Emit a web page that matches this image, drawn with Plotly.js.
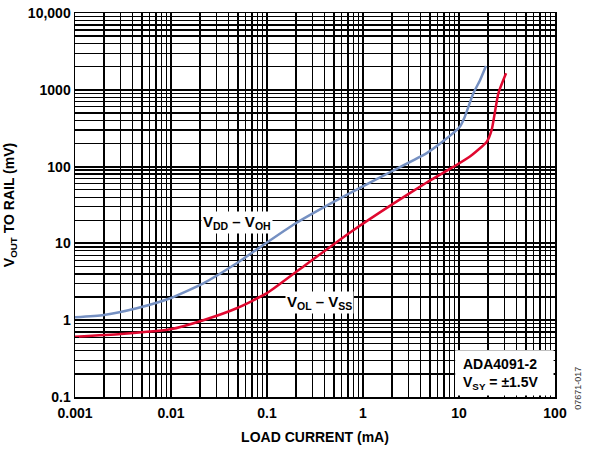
<!DOCTYPE html>
<html>
<head>
<meta charset="utf-8">
<script src="https://cdn.plot.ly/plotly-3.0.1.min.js"></script>
<style>html,body{margin:0;padding:0;background:#fff;}#chart{width:597px;height:453px;}</style>
</head>
<body>
<div id="chart"></div>
<script>
// Load current (mA) and voltage to rail (mV)
const vohCurrent = [0.001, 0.002, 0.0044, 0.0098, 0.0217, 0.0483, 0.0845, 0.188, 0.419, 0.93, 2.07, 4.61, 6.87, 10.2, 11.5, 14.1, 16.6, 19.1];
const vohValue   = [1.09, 1.17, 1.43, 1.93, 3.02, 5.51, 8.9, 17.5, 31, 53, 89, 150, 215, 331, 447, 899, 1343, 2042];
const volCurrent = [0.001, 0.003, 0.0098, 0.0217, 0.0483, 0.1, 0.221, 0.733, 2.07, 4.61, 8.73, 13.0, 19.5, 21.9, 25.7, 30.9];
const volValue   = [0.61, 0.66, 0.76, 1.0, 1.43, 2.25, 4.65, 13.9, 33, 62, 99, 135, 211, 300, 899, 1641];
const xTickVals = [0.001, 0.01, 0.1, 1, 10, 100];
const xTickText = ['0.001', '0.01', '0.1', '1', '10', '100'];
const yTickVals = [0.1, 1, 10, 100, 1000, 10000];
const yTickText = ['0.1', '1', '10', '100', '1000', '10,000'];

function minorVals(lo, hi) {
  const v = [];
  for (let d = lo; d < hi; d++) for (let k = 2; k <= 9; k++) v.push(k * Math.pow(10, d));
  return v;
}

const FONT = 'Liberation Sans, Arial, sans-serif';
const traces = [
  {x: vohCurrent, y: vohValue, mode: 'lines', line: {color: '#7590c2', width: 2.5, shape: 'spline', smoothing: 0.5}, hoverinfo: 'skip'},
  {x: volCurrent, y: volValue, mode: 'lines', line: {color: '#e0082f', width: 2.5, shape: 'spline', smoothing: 0.5}, hoverinfo: 'skip'}
];

const axisCommon = {
  type: 'log', showgrid: true, gridcolor: '#000', gridwidth: 2,
  showline: true, linecolor: '#000', linewidth: 1.5, mirror: true,
  ticks: 'inside', ticklen: 5, tickcolor: '#000', zeroline: false,
  tickfont: {family: FONT, size: 14, weight: 'bold', color: '#000'}
};

const layout = {
  width: 597, height: 453,
  margin: {l: 75, r: 42, t: 13, b: 56},
  paper_bgcolor: '#fff', plot_bgcolor: '#fff',
  showlegend: false,
  font: {family: FONT, color: '#000'},
  xaxis: Object.assign({}, axisCommon, {
    range: [-3, 2], tickmode: 'array', tickvals: xTickVals, ticktext: xTickText, ticklabelstandoff: 3,
    minor: {tickmode: 'array', tickvals: minorVals(-3, 2), showgrid: true, gridcolor: '#000', gridwidth: 1.3, ticks: 'inside', ticklen: 4, tickcolor: '#000'},
    title: {text: 'LOAD CURRENT (mA)', font: {family: FONT, size: 14, weight: 'bold', color: '#000'}, standoff: 12}
  }),
  yaxis: Object.assign({}, axisCommon, {
    range: [-1, 4], tickmode: 'array', tickvals: yTickVals, ticktext: yTickText,
    minor: {tickmode: 'array', tickvals: minorVals(-1, 4), showgrid: true, gridcolor: '#000', gridwidth: 1.3, ticks: 'inside', ticklen: 4, tickcolor: '#000'},
    title: {text: 'V<sub>OUT</sub> TO RAIL (mV)', font: {family: FONT, size: 14, weight: 'bold', color: '#000'}, standoff: 10}
  }),
  shapes: [
    {type: 'rect', xref: 'paper', yref: 'paper', x0: 0.792, x1: 0.997, y0: 0.004, y1: 0.122, fillcolor: '#fff', line: {width: 0}, layer: 'above'}
  ],
  annotations: [
    {x: -1.3125, y: 1.266, xref: 'x', yref: 'y', text: 'V<sub>DD</sub> – V<sub>OH</sub>', showarrow: false,
     font: {family: FONT, size: 15, weight: 'bold', color: '#000'}, bgcolor: '#fff', borderpad: 1},
    {x: -0.448, y: 0.237, xref: 'x', yref: 'y', text: 'V<sub>OL</sub> – V<sub>SS</sub>', showarrow: false,
     font: {family: FONT, size: 15, weight: 'bold', color: '#000'}, bgcolor: '#fff', borderpad: 1},
    {x: 0.805, y: 0.008, xref: 'paper', yref: 'paper', xanchor: 'left', yanchor: 'bottom', align: 'left',
     text: 'ADA4091-2<br>V<sub>SY</sub> = ±1.5V', showarrow: false,
     font: {family: FONT, size: 14, weight: 'bold', color: '#000'}},
    {x: 1.0625, y: -0.04, xref: 'paper', yref: 'paper', text: '07671-017', textangle: -90, showarrow: false,
     font: {family: FONT, size: 9, color: '#333'}}
  ]
};

Plotly.newPlot('chart', traces, layout, {staticPlot: true, displayModeBar: false});
</script>
</body>
</html>
